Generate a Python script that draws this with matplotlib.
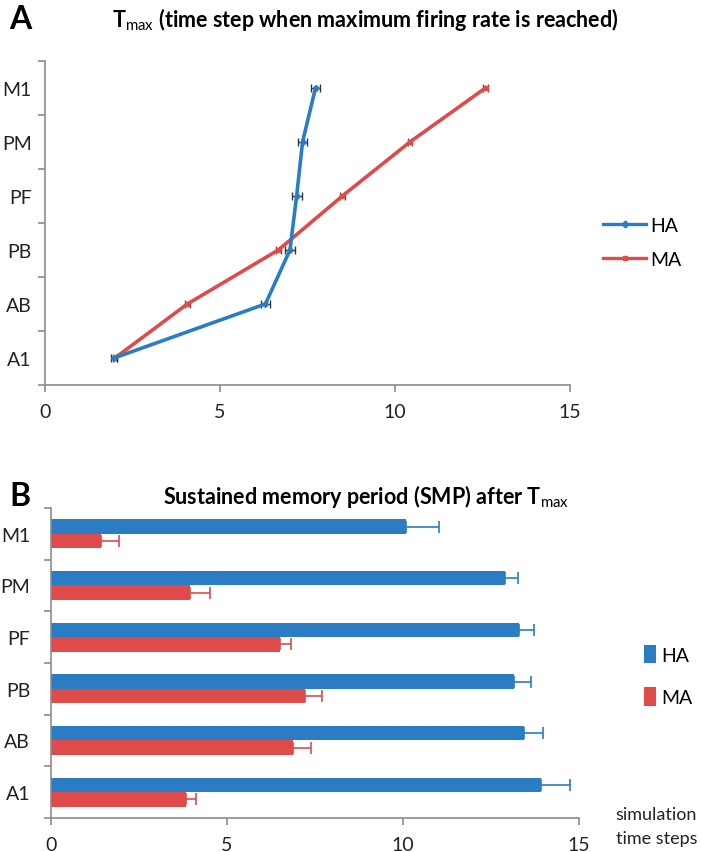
import matplotlib
matplotlib.use("Agg")
import matplotlib.pyplot as plt
from matplotlib.lines import Line2D
import numpy as np

plt.rcParams['font.family'] = ['Lato', 'DejaVu Sans']
plt.rcParams['mathtext.fontset'] = 'custom'
plt.rcParams['mathtext.rm'] = 'Lato'
plt.rcParams['mathtext.bf'] = 'Lato:bold'

# Datos
areas = ["A1", "AB", "PB", "PF", "PM", "M1"]

# Panel A: Tmax
tmax_ha = [1.98, 6.3, 7.0, 7.19, 7.36, 7.73]
tmax_ha_err = [0.08, 0.14, 0.14, 0.14, 0.12, 0.14]
tmax_ma = [2.0, 4.07, 6.67, 8.5, 10.43, 12.59]
tmax_ma_err = [0.06, 0.07, 0.08, 0.07, 0.07, 0.07]

# Panel B: SMP
smp_ha = [13.93, 13.45, 13.16, 13.3, 12.89, 10.1]
smp_ha_err = [0.81, 0.54, 0.49, 0.43, 0.39, 0.93]
smp_ma = [3.83, 6.88, 7.23, 6.5, 3.95, 1.41]
smp_ma_err = [0.29, 0.51, 0.47, 0.31, 0.56, 0.53]

blue = '#2a7dc2'
red = '#df4b4b'
gray = '#8c8c8c'
txt = '#222222'

fig = plt.figure(figsize=(7.02, 8.53), dpi=100)

def style_axes(ax, ypad):
    for s in ['top', 'right']:
        ax.spines[s].set_visible(False)
    for s in ['left', 'bottom']:
        ax.spines[s].set_color(gray)
        ax.spines[s].set_linewidth(1.2)
    ax.set_xlim(0, 15)
    ax.set_xticks([0, 5, 10, 15])
    ax.set_ylim(-0.5, len(areas) - 0.5)
    # ticks de categoría en los bordes, etiquetas en el centro
    ax.set_yticks(np.arange(-0.5, len(areas)), minor=True)
    ax.set_yticks(np.arange(len(areas)))
    ax.set_yticklabels(areas)
    ax.tick_params(axis='y', which='major', length=0, pad=ypad, labelsize=14, labelcolor=txt)
    ax.tick_params(axis='y', which='minor', length=5, color=gray, width=1.2, direction='out')
    ax.tick_params(axis='x', length=5, color=gray, width=1.2, direction='out', pad=8,
                   labelsize=14, labelcolor=txt)

# ---- Panel A ----
axA = fig.add_axes([0.064, 0.5475, 0.748, 0.380])
y = np.arange(len(areas))
axA.errorbar(tmax_ha, y, xerr=tmax_ha_err, color=blue, lw=2.6, marker='D', ms=3,
             ecolor='#333333', elinewidth=1, capsize=3, capthick=1, zorder=3)
axA.errorbar(tmax_ma, y, xerr=tmax_ma_err, color=red, lw=2.6, marker='s', ms=3,
             ecolor='#555555', elinewidth=1, capsize=3, capthick=1, zorder=2)
style_axes(axA, 9.5)
handles = [Line2D([], [], color=blue, lw=2.4, marker='D', ms=3.5),
           Line2D([], [], color=red, lw=2.4, marker='s', ms=3.5)]
axA.legend(handles, ['HA', 'MA'], loc='center left', bbox_to_anchor=(1.03, 0.44),
           frameon=False, fontsize=14, handlelength=2.2, handletextpad=0.2,
           labelspacing=0.9)

# ---- Panel B ----
axB = fig.add_axes([0.0726, 0.0399, 0.752, 0.3634])
h = 0.28
axB.barh(y + h / 2, smp_ha, height=h, color=blue, label='HA',
         xerr=[np.zeros(len(areas)), smp_ha_err],
         error_kw=dict(ecolor=blue, elinewidth=1.2, capsize=4, capthick=1.2))
axB.barh(y - h / 2, smp_ma, height=h, color=red, label='MA',
         xerr=[np.zeros(len(areas)), smp_ma_err],
         error_kw=dict(ecolor=red, elinewidth=1.2, capsize=4, capthick=1.2))
style_axes(axB, 15)
axB.legend(loc='center left', bbox_to_anchor=(1.09, 0.46), frameon=False,
           fontsize=14, handlelength=0.6, handleheight=1.1, handletextpad=0.3,
           labelspacing=1.2)

# Títulos y letras de panel
fig.text(0.013, 0.977, "A", fontsize=23, fontweight='bold', va='center')
fig.text(0.52, 0.977, r"T$_{\mathrm{max}}$ (time step when maximum firing rate is reached)",
         fontsize=15.5, fontweight='bold', ha='center', va='center')
fig.text(0.013, 0.418, "B", fontsize=23, fontweight='bold', va='center')
fig.text(0.522, 0.418, r"Sustained memory period (SMP) after T$_{\mathrm{max}}$",
         fontsize=15.5, fontweight='bold', ha='center', va='center')
fig.text(0.877, 0.045, "simulation", fontsize=13, color=txt, va='center')
fig.text(0.877, 0.016, "time steps", fontsize=13, color=txt, va='center')

plt.savefig("out.png", dpi=100)
plt.close()
